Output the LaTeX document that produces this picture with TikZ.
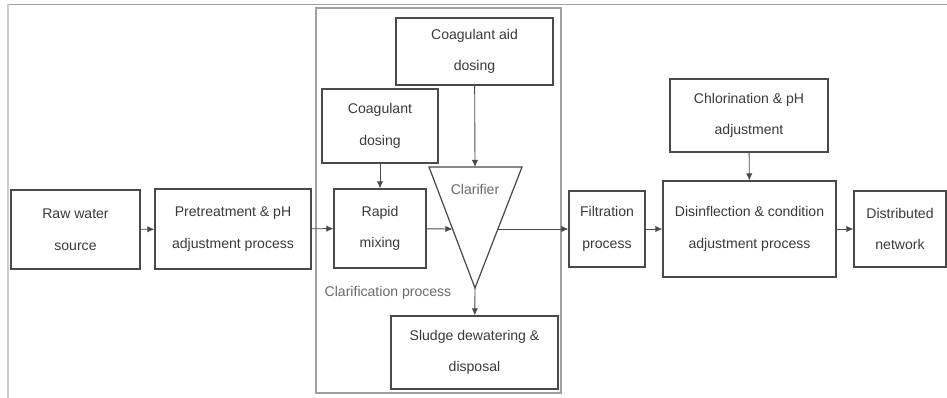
\documentclass[tikz,border=0pt]{standalone}
\usepackage{fontspec}
\setmainfont{Liberation Sans}
\usepackage{tikz}
\usetikzlibrary{arrows.meta}
\definecolor{boxline}{HTML}{4A4A4A}
\definecolor{boxtext}{HTML}{3A3A3A}
\definecolor{frameline}{HTML}{A0A0A0}
\definecolor{edgeline}{HTML}{CCCCCC}
\definecolor{softtext}{HTML}{6A6A6A}

\begin{document}
\begin{tikzpicture}[x=0.02cm,y=-0.02cm,
  every text node part/.style={align=center},
  box/.style={draw=boxline,line width=0.7pt,shape=rectangle,inner sep=0pt,text=boxtext,
    font=\fontsize{8}{18}\selectfont},
  flow/.style={draw=boxline,line width=0.5pt,-{Latex[length=4pt,width=3.6pt]}}]
\useasboundingbox (0,0) rectangle (947,398);
% frames
\draw [frameline,line width=0.8pt] (8,4.5) -- (947,4.5);
\draw [edgeline,line width=1.4pt] (8,4.5) -- (8,398);
\draw [frameline,line width=0.6pt] (316,8) rectangle (561,393);
% process boxes
\node [box,minimum width=2.58cm,minimum height=1.58cm] (raw) at (75.5,229.5) {Raw water\\source};
\node [box,minimum width=3.12cm,minimum height=1.6cm] (pre) at (233,229) {Pretreatment \& pH\\adjustment process};
\node [box,minimum width=1.84cm,minimum height=1.58cm] (rapid) at (380,228.5) {Rapid\\mixing};
\node [box,minimum width=2.32cm,minimum height=1.48cm] (coag) at (380,126) {Coagulant\\dosing};
\node [box,minimum width=3.14cm,minimum height=1.34cm] (aid) at (474.5,51.5) {Coagulant aid\\dosing};
\node [box,minimum width=3.34cm,minimum height=1.46cm] (sludge) at (474.5,352.5) {Sludge dewatering \&\\disposal};
\node [box,minimum width=1.52cm,minimum height=1.52cm] (filt) at (607,229) {Filtration\\process};
\node [box,minimum width=3.46cm,minimum height=1.92cm] (disinf) at (749.5,229) {Disinflection \& condition\\adjustment process};
\node [box,minimum width=3.16cm,minimum height=1.46cm] (chlor) at (749,115.5) {Chlorination \& pH\\adjustment};
\node [box,minimum width=1.84cm,minimum height=1.52cm] (dist) at (900,229) {Distributed\\network};
% clarifier
\coordinate (cltop) at (475,167);
\coordinate (clin) at (452.5,229);
\coordinate (clout) at (498,229);
\coordinate (clapex) at (475,288);
\draw [boxline,line width=0.7pt] (429,167) -- (522,167) -- (clapex) -- cycle;
\node [text=softtext,font=\fontsize{8}{10}\selectfont] (clarifier) at (475,189) {Clarifier};
\node [text=softtext,font=\fontsize{8}{10}\selectfont] (clarlabel) at (388,293) {Clarification process};
% connectors
\draw [flow] (raw) -- (pre);
\draw [flow] (pre) -- (rapid);
\draw [flow] (coag) -- (rapid);
\draw [flow] (rapid) -- (clin);
\draw [flow] (aid) -- (cltop);
\draw [flow] (clout) -- (filt);
\draw [flow] (clapex) -- (sludge);
\draw [flow] (filt) -- (disinf);
\draw [flow] (chlor) -- (disinf);
\draw [flow] (disinf) -- (dist);
\end{tikzpicture}
\end{document}
